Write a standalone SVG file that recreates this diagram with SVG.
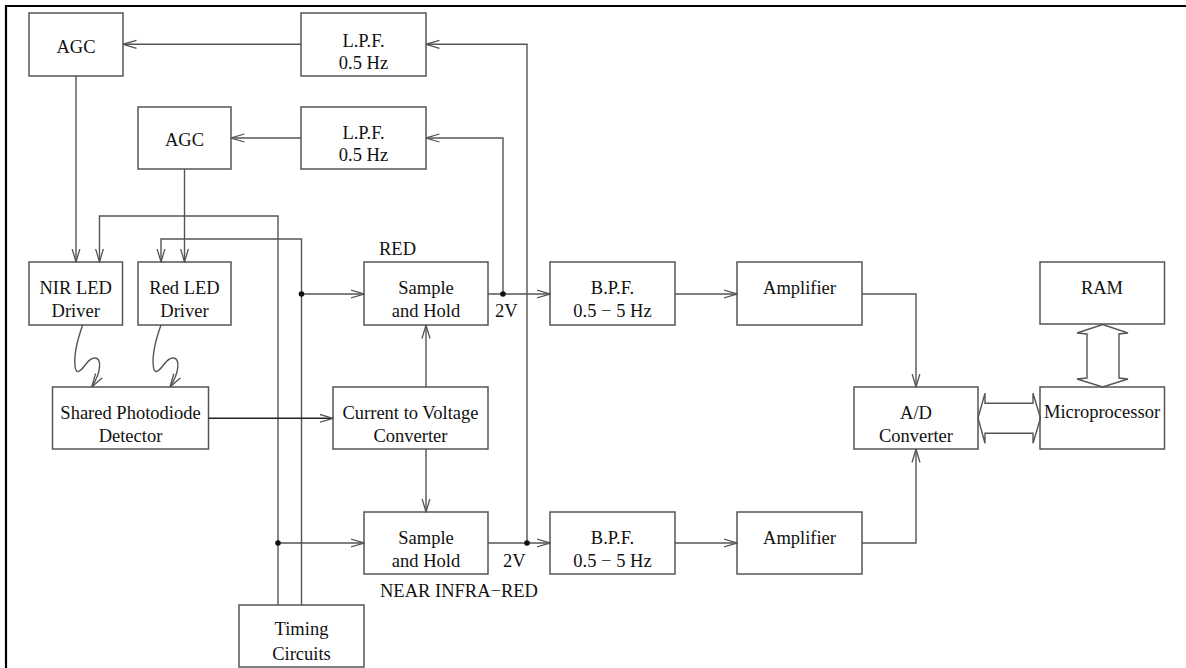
<svg xmlns="http://www.w3.org/2000/svg" width="1186" height="668" viewBox="0 0 1186 668">
<style>
.box{fill:#fff;stroke:#555;stroke-width:1.5}
.ln{fill:none;stroke:#555;stroke-width:1.4}
.ar{fill:none;stroke:#555;stroke-width:1.4;marker-end:url(#a)}
.t{font-family:"Liberation Serif","Times New Roman",serif;font-size:18.5px;fill:#111;text-anchor:middle}
.tl{font-family:"Liberation Serif","Times New Roman",serif;font-size:18.5px;fill:#111}
.dot{fill:#111}
</style>
<defs>
<marker id="a" viewBox="0 0 14 10" refX="13.5" refY="5" markerWidth="14" markerHeight="10" markerUnits="userSpaceOnUse" orient="auto">
<path d="M0,1 L13.5,5 L0,9" fill="none" stroke="#555" stroke-width="1.3"/>
</marker>
</defs>
<rect width="1186" height="668" fill="#fff"/>
<path d="M6,668 V6 H1186" fill="none" stroke="#000" stroke-width="2.2"/>

<g id="agc1"><rect class="box" x="29" y="13" width="94" height="63"/><text class="t" x="76" y="53">AGC</text></g>
<g id="lpf1"><rect class="box" x="301" y="13" width="125" height="63"/><text class="t" x="363.5" y="47">L.P.F.</text><text class="t" x="363.5" y="68.5">0.5 Hz</text></g>
<g id="agc2"><rect class="box" x="138" y="107" width="93" height="62"/><text class="t" x="184.5" y="146">AGC</text></g>
<g id="lpf2"><rect class="box" x="301" y="107" width="125" height="62"/><text class="t" x="363.5" y="139">L.P.F.</text><text class="t" x="363.5" y="161">0.5 Hz</text></g>
<g id="nirled"><rect class="box" x="29" y="262" width="93.5" height="63"/><text class="t" x="75.7" y="294">NIR LED</text><text class="t" x="75.7" y="317">Driver</text></g>
<g id="redled"><rect class="box" x="138" y="262" width="93" height="63"/><text class="t" x="184.5" y="294">Red LED</text><text class="t" x="184.5" y="317">Driver</text></g>
<g id="photodiode"><rect class="box" x="52.5" y="387" width="156" height="62"/><text class="t" x="130.5" y="418.5">Shared Photodiode</text><text class="t" x="130.5" y="442">Detector</text></g>
<g id="ctov"><rect class="box" x="333" y="387" width="155" height="62"/><text class="t" x="410.5" y="418.5">Current to Voltage</text><text class="t" x="410.5" y="442">Converter</text></g>
<g id="shred"><rect class="box" x="364" y="262" width="124" height="63"/><text class="t" x="426" y="294">Sample</text><text class="t" x="426" y="317">and Hold</text></g>
<g id="shnir"><rect class="box" x="364" y="512" width="124" height="62"/><text class="t" x="426" y="543.5">Sample</text><text class="t" x="426" y="566.5">and Hold</text></g>
<g id="timing"><rect class="box" x="239" y="605" width="125" height="62"/><text class="t" x="301.5" y="635">Timing</text><text class="t" x="301.5" y="660">Circuits</text></g>
<g id="bpf1"><rect class="box" x="550" y="262" width="125" height="63"/><text class="t" x="612.5" y="294">B.P.F.</text><text class="t" x="612.5" y="317">0.5 − 5 Hz</text></g>
<g id="bpf2"><rect class="box" x="550" y="512" width="125" height="62"/><text class="t" x="612.5" y="543.5">B.P.F.</text><text class="t" x="612.5" y="566.5">0.5 − 5 Hz</text></g>
<g id="amp1"><rect class="box" x="737" y="262" width="125" height="63"/><text class="t" x="799.5" y="294">Amplifier</text></g>
<g id="amp2"><rect class="box" x="737" y="512" width="125" height="62"/><text class="t" x="799.5" y="543.5">Amplifier</text></g>
<g id="adc"><rect class="box" x="854" y="387" width="124" height="62"/><text class="t" x="916" y="418.5">A/D</text><text class="t" x="916" y="442">Converter</text></g>
<g id="ram"><rect class="box" x="1040" y="262" width="124.5" height="62"/><text class="t" x="1102" y="294">RAM</text></g>
<g id="micro"><rect class="box" x="1040" y="387" width="124.5" height="62"/><text class="t" x="1102" y="418">Microprocessor</text></g>

<g id="labels">
<text class="tl" x="379" y="255">RED</text>
<text class="tl" x="495" y="316.7">2V</text>
<text class="tl" x="503" y="566.5">2V</text>
<text class="tl" x="380" y="597">NEAR INFRA−RED</text>
</g>

<g id="connectors">
<path class="ar" d="M301,44.3 H123"/>
<path class="ar" d="M301,138 H231"/>
<path class="ar" d="M76,76 V262"/>
<path class="ar" d="M184.5,169 V262"/>
<path class="ar" d="M278,605 V216 H99.5 V262"/>
<path class="ar" d="M301.5,605 V239 H161 V262"/>
<path class="ar" d="M301.5,294 H364"/>
<path class="ar" d="M278,543 H364"/>
<path class="ar" d="M488,294 H550"/>
<path class="ar" d="M503,294 V138 H426"/>
<path class="ar" d="M488,543 H550"/>
<path class="ar" d="M527,543 V44.3 H426"/>
<path class="ar" d="M208.5,418.3 H333" style="stroke:#222"/>
<path class="ar" d="M426,387 V325"/>
<path class="ar" d="M426,449 V512"/>
<path class="ar" d="M675,294 H737"/>
<path class="ar" d="M675,543 H737"/>
<path class="ar" d="M862,294 H916 V387"/>
<path class="ar" d="M862,543 H916 V449"/>
<path class="ar" d="M82.7,325 C78,338 73.5,352 75,366 C76,375 80,372 86,364 C92,356 100.5,355 99.5,367 C99,375 95.5,381 91.7,387"/>
<path class="ar" d="M161,325 C156.3,338 151.8,352 153.3,366 C154.3,375 158.3,372 164.3,364 C170.3,356 178.8,355 177.8,367 C177.3,375 173.8,381 170,387"/>
<path class="ln" d="M1087,334 L1077,333 L1102.7,324.5 L1128,333 L1119,334 V378 L1128,379 L1102.7,387 L1077,379 L1087,378 Z"/>
<path class="ln" d="M985,403.3 L985,393.3 L978,418 L985,443.3 L985,433.3 H1033 L1033,443.3 L1040.5,418 L1033,393.3 L1033,403.3 Z"/>
<circle class="dot" cx="301.5" cy="294" r="2.8"/>
<circle class="dot" cx="278" cy="543" r="2.8"/>
<circle class="dot" cx="503" cy="294" r="2.8"/>
<circle class="dot" cx="527" cy="543" r="2.8"/>
</g>
</svg>
